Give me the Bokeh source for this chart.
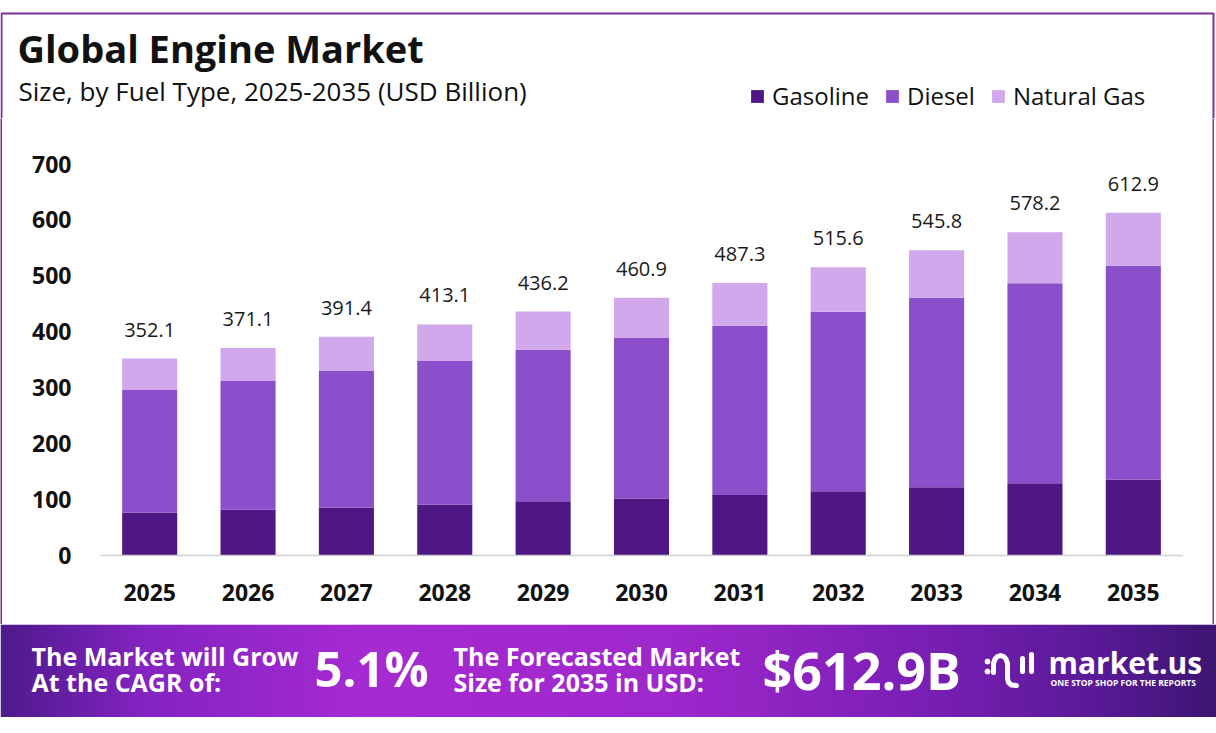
from bokeh.plotting import figure
from bokeh.models import ColumnDataSource, Range1d, FactorRange, Legend, LegendItem
from bokeh.layouts import column, row
from bokeh.embed import file_html
from bokeh.resources import INLINE
from bokeh.core.properties import value

# data
years = ["2025", "2026", "2027", "2028", "2029", "2030", "2031", "2032", "2033", "2034", "2035"]
gasoline = [77, 82, 86, 91, 97, 102, 108, 115, 122, 129, 136]
diesel = [219, 230, 244, 257, 271, 287, 303, 321, 339, 358, 382]
natural_gas = [56.1, 59.1, 61.4, 65.1, 68.2, 71.9, 76.3, 79.6, 84.8, 91.2, 94.9]
totals = [352.1, 371.1, 391.4, 413.1, 436.2, 460.9, 487.3, 515.6, 545.8, 578.2, 612.9]
fuel_types = ["Gasoline", "Diesel", "Natural Gas"]
colors = ["#4f1783", "#8b4fcb", "#d2a8ec"]
y_ticks = [0, 100, 200, 300, 400, 500, 600, 700]
cagr = "5.1%"
forecast = "$612.9B"

FONT = "Open Sans"
INK = "#111111"
FRAME = "#7b2fa0"


def blank(w, h, x_end, y_start, y_end, bg="white"):
    f = figure(frame_width=w, frame_height=h, x_range=Range1d(0, x_end),
               y_range=Range1d(y_start, y_end), min_border=0,
               x_axis_location=None, y_axis_location=None,
               output_backend="svg", toolbar_location=None)
    f.frame_align = False
    f.grid.visible = False
    f.outline_line_color = None
    f.background_fill_color = bg
    f.border_fill_color = bg
    return f


# ---- header: card top edge, titles, legend ----
h = blank(1216, 118, 1216, 118, 0)
h.multi_line(xs=[[1, 1, 1213, 1213]], ys=[[118, 13, 13, 118]],
             line_color=FRAME, line_width=2)
h.text(x=[17], y=[47], text=["Global Engine Market"], text_font=value(FONT),
       text_font_style="bold", text_font_size="38px", text_color=INK,
       text_baseline="middle")
h.text(x=[18], y=[90.5], text=["Size, by Fuel Type, 2025-2035 (USD Billion)"],
       text_font=value(FONT), text_font_size="26px", text_color=INK,
       text_baseline="middle")

swatches = [h.rect(x=[-100], y=[-100], width=1, height=1, color=c, line_width=0)
            for c in colors]
legend = Legend(
    items=[LegendItem(label=n, renderers=[r]) for n, r in zip(fuel_types, swatches)],
    orientation="horizontal", location=(749, 6),
    glyph_width=16, glyph_height=16, label_standoff=7, spacing=15,
    padding=0, margin=0, border_line_alpha=0, background_fill_alpha=0,
    label_text_font=FONT, label_text_font_size="24px", label_text_color=INK,
)
h.add_layout(legend)

# ---- chart ----
src = ColumnDataSource(dict(
    years=years, gasoline=gasoline, diesel=diesel, natural_gas=natural_gas,
    total=totals, label=["%.1f" % t for t in totals],
))

p = figure(
    x_range=FactorRange(*years), y_range=Range1d(0, 760),
    width=1210, height=506,
    min_border_left=98, min_border_right=30, min_border_top=12, min_border_bottom=69,
    output_backend="svg", toolbar_location=None,
)
p.frame_align = False
p.outline_line_color = None
p.xgrid.grid_line_color = None
p.ygrid.grid_line_color = None

p.vbar_stack(["gasoline", "diesel", "natural_gas"], x="years", width=0.56,
             color=colors, line_width=0, source=src)

p.text(x="years", y="total", text="label", source=src, y_offset=-29,
       text_align="center", text_baseline="middle",
       text_font=value(FONT), text_font_size="20px", text_color="#1a1a1a")

p.yaxis.ticker = y_ticks
p.yaxis.axis_line_color = None
p.yaxis.major_tick_line_color = None
p.yaxis.minor_tick_line_color = None
p.yaxis.major_label_standoff = 23
p.yaxis.major_label_text_font = FONT
p.yaxis.major_label_text_font_style = "bold"
p.yaxis.major_label_text_font_size = "23px"
p.yaxis.major_label_text_color = INK

p.xaxis.axis_line_color = "#cfcfcf"
p.xaxis.axis_line_width = 1.5
p.xaxis.major_tick_line_color = None
p.xaxis.minor_tick_line_color = None
p.xaxis.major_label_standoff = 22
p.xaxis.major_label_text_font = FONT
p.xaxis.major_label_text_font_style = "bold"
p.xaxis.major_label_text_font_size = "23px"
p.xaxis.major_label_text_color = INK

# purple side edges of the card
left_edge = blank(2, 506, 1, 0, 1, bg=FRAME)
right_edge = blank(2, 506, 1, 0, 1, bg=FRAME)

# ---- banner ----
b = blank(1216, 93, 1216, 93, 0)

stops = [(0.0, (0x4e, 0x1a, 0x8c)), (0.12, (0x85, 0x24, 0xc2)), (0.3, (0xa6, 0x2b, 0xd2)),
         (0.55, (0x9f, 0x28, 0xcc)), (0.75, (0x7c, 0x20, 0xb6)), (0.9, (0x5a, 0x1a, 0x98)),
         (1.0, (0x3d, 0x16, 0x72))]


def grad(t):
    for (t0, c0), (t1, c1) in zip(stops[:-1], stops[1:]):
        if t0 <= t <= t1:
            f = (t - t0) / (t1 - t0)
            return "#%02x%02x%02x" % tuple(int(a + (bb - a) * f) for a, bb in zip(c0, c1))
    return "#3d1672"


n = 152
step = 1216 / n
b.quad(left=[i * step for i in range(n)], right=[(i + 1) * step + 0.5 for i in range(n)],
       top=[0] * n, bottom=[93] * n,
       color=[grad((i + 0.5) / n) for i in range(n)], line_width=0)


def btext(x, y, s, size, bold=True):
    b.text(x=[x], y=[y], text=[s], text_font=value(FONT),
           text_font_style="bold" if bold else "normal",
           text_font_size=size, text_color="white", text_baseline="middle")


btext(31, 31, "The Market will Grow", "25px")
btext(31, 57.5, "At the CAGR of:", "25px")
btext(314, 43.5, cagr, "49px")
btext(453, 31, "The Forecasted Market", "25px")
btext(453, 57.5, "Size for 2035 in USD:", "25px")
btext(762, 45, forecast, "52px")
btext(1048, 38, "market.us", "30px")
btext(1050, 57.5, "ONE STOP SHOP FOR THE REPORTS", "8.5px")

# logo mark
b.scatter(x=[987, 987], y=[37, 47], size=5, color="white")
b.line(x=[993, 993, 994.5, 997, 1000, 1003, 1005.5, 1007, 1007, 1008, 1011, 1016],
       y=[48, 39, 34.5, 32, 31, 32, 34.5, 39, 54, 58, 60.5, 61],
       line_width=5, line_color="white", line_cap="round", line_join="round")
b.multi_line(xs=[[1022, 1022], [1031, 1031]], ys=[[34, 47], [30, 47]],
             line_width=5, line_color="white", line_cap="round")

layout = column(h, row(left_edge, p, right_edge, spacing=0), b, spacing=0)
open("out.html", "w").write(file_html(layout, INLINE))
